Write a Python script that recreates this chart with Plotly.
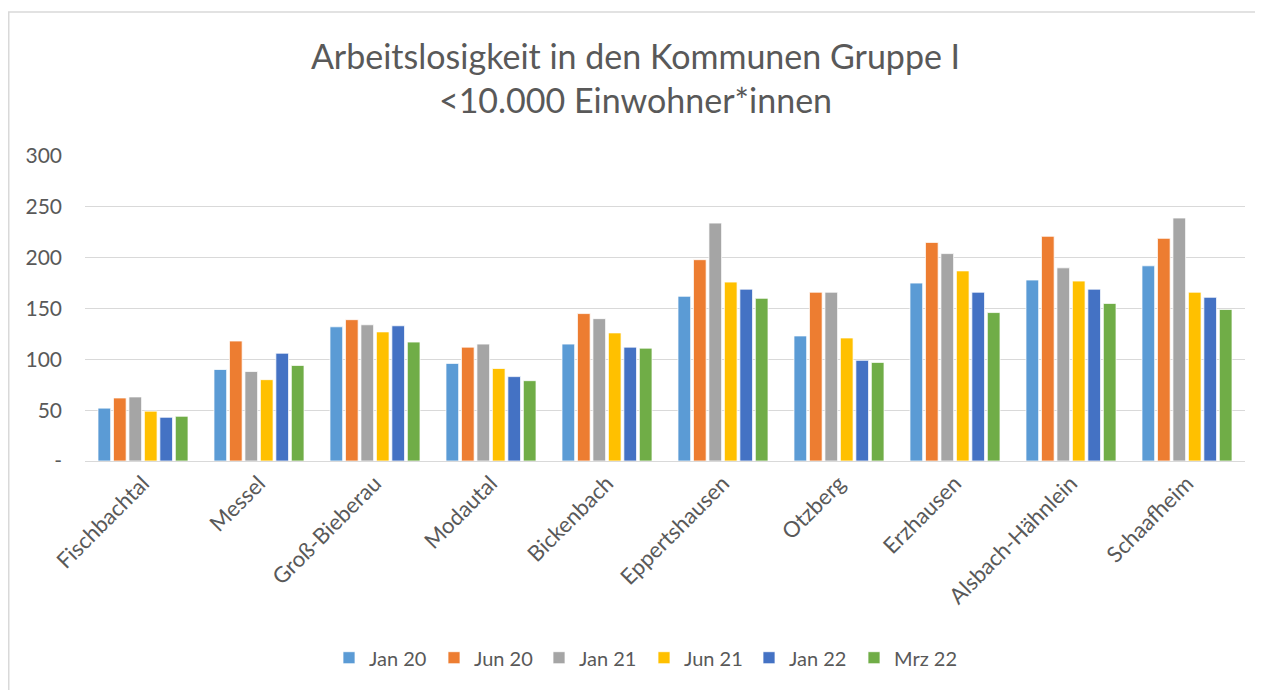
import plotly.graph_objects as go

categories = ["Fischbachtal", "Messel", "Groß-Bieberau", "Modautal", "Bickenbach",
              "Eppertshausen", "Otzberg", "Erzhausen", "Alsbach-Hähnlein", "Schaafheim"]

jan20 = [52, 90, 132, 96, 115, 162, 123, 175, 178, 192]
jun20 = [62, 118, 139, 112, 145, 198, 166, 215, 221, 219]
jan21 = [63, 88, 134, 115, 140, 234, 166, 204, 190, 239]
jun21 = [49, 80, 127, 91, 126, 176, 121, 187, 177, 166]
jan22 = [43, 106, 133, 83, 112, 169, 99, 166, 169, 161]
mrz22 = [44, 94, 117, 79, 111, 160, 97, 146, 155, 149]

series_names = ["Jan 20", "Jun 20", "Jan 21", "Jun 21", "Jan 22", "Mrz 22"]
series_values = [jan20, jun20, jan21, jun21, jan22, mrz22]
colors = ["#5B9BD5", "#ED7D31", "#A5A5A5", "#FFC000", "#4472C4", "#70AD47"]

y_tickvals = [0, 50, 100, 150, 200, 250, 300]
y_ticktext = ["-", "50", "100", "150", "200", "250", "300"]

FONT = "Lato, Carlito, Calibri, sans-serif"
TXT = "#595959"

fig = go.Figure()
for name, vals, col in zip(series_names, series_values, colors):
    fig.add_trace(go.Bar(name=name, x=categories, y=vals,
                         marker=dict(color=col, line=dict(color="white", width=0.75))))

# page body adds an 8px margin, so the figure is laid out 8px up/left
W, H = 1255, 682
L, R, T, B = 77, 18, 148, 227
pw, ph = W - L - R, H - T - B

fig.update_layout(
    width=W, height=H,
    margin=dict(l=L, r=R, t=T, b=B),
    paper_bgcolor="white", plot_bgcolor="white",
    barmode="group", bargap=0.2, bargroupgap=0.18,
    font=dict(family=FONT, color=TXT, size=20),
    title=dict(text="Arbeitslosigkeit in den Kommunen Gruppe I<br><10.000 Einwohner*innen",
               x=0.5, xanchor="center", y=1 - 61 / H, yanchor="middle",
               font=dict(family=FONT, size=34, color=TXT)),
    legend=dict(orientation="h", x=(636 - L) / pw, xanchor="center",
                y=-(653 - T - ph) / ph, yanchor="middle",
                font=dict(family=FONT, size=20, color=TXT),
                entrywidth=60, entrywidthmode="pixels",
                itemwidth=30, traceorder="normal"),
    xaxis=dict(tickangle=-45, showline=True, linecolor="#D9D9D9", linewidth=1,
               ticks="", tickfont=dict(family=FONT, size=22, color=TXT)),
    yaxis=dict(range=[0, 300], tickvals=y_tickvals, ticktext=y_ticktext,
               showgrid=True, gridcolor="#D9D9D9", gridwidth=1, zeroline=False,
               showline=False, ticks="", ticklabelstandoff=22,
               tickfont=dict(family=FONT, size=21, color=TXT)),
    shapes=[dict(type="rect", xref="paper", yref="paper",
                 x0=(0.75 - L) / pw, x1=(W + 40 - L) / pw,
                 y0=-(H + 40 - T - ph) / ph, y1=(ph + T - 3) / ph,
                 line=dict(color="#D9D9D9", width=1.5), fillcolor="rgba(0,0,0,0)",
                 layer="below")],
)

fig.write_html("out.html")
